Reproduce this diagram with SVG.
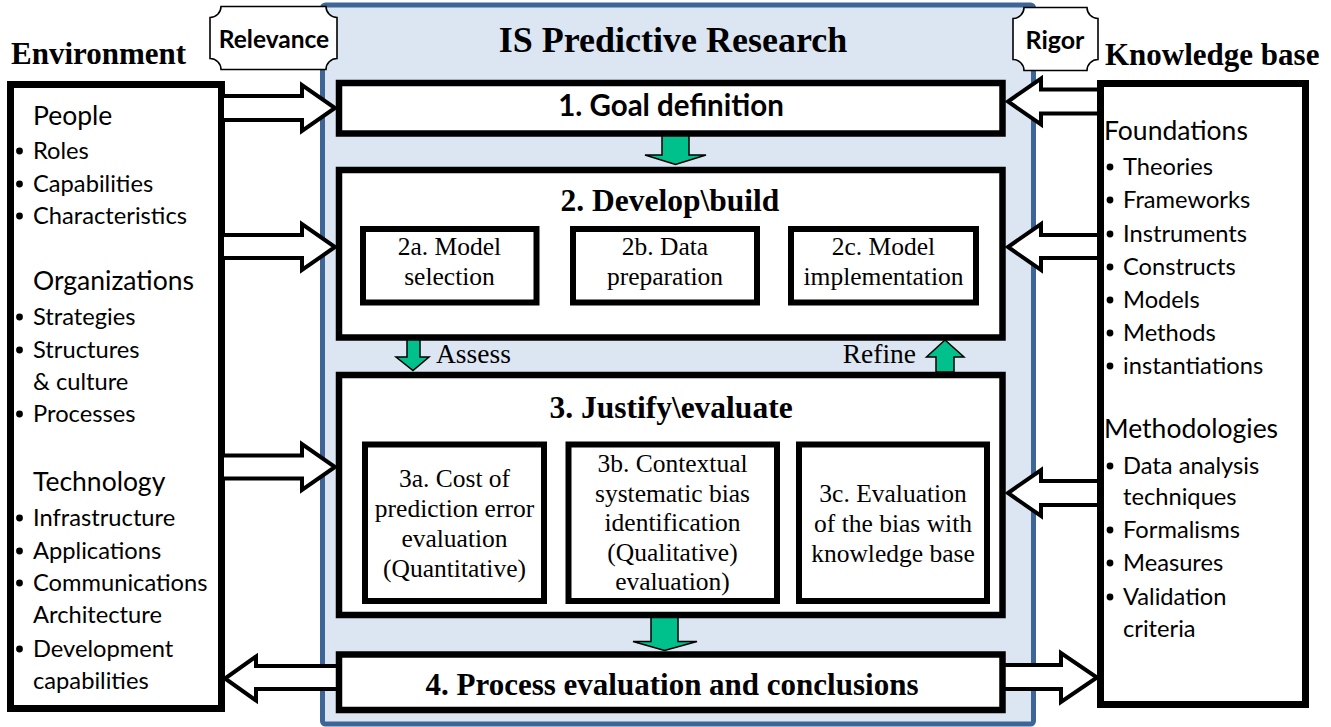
<svg xmlns="http://www.w3.org/2000/svg" width="1331" height="727" viewBox="0 0 1331 727">
<style>
.box{fill:#fff;stroke:#000;stroke-width:6.5}
.sub{fill:#fff;stroke:#000;stroke-width:6}
.side{fill:#fff;stroke:#000;stroke-width:7}
.hollow{fill:#fff;stroke:#000;stroke-width:4;stroke-linejoin:miter}
.green{fill:#00c18c;stroke:#000;stroke-width:1.5}
.plaque{fill:#fff;stroke:#000;stroke-width:1.6}
.sans{font-family:Lato,"Liberation Sans",sans-serif;fill:#000}
.serif{font-family:"Liberation Serif","Times New Roman",serif;fill:#000}
.hd{font-size:26.5px}
.it{font-size:23.7px}
.tb{font-weight:bold}
.ctr{text-anchor:middle}
.subt{font-size:25.5px}
.ttl{font-size:31.5px;font-weight:bold}
</style>
<rect width="1331" height="727" fill="#fff"/>

<g id="panel">
<rect x="322.5" y="5" width="711" height="719" rx="3" fill="#dce6f2" stroke="#3d6595" stroke-width="5"/>
<text class="serif tb ctr" x="673" y="52" font-size="36">IS Predictive Research</text>
</g>

<g id="environment">
<text class="serif tb" x="11" y="64" font-size="31">Environment</text>
<rect class="side" x="10.5" y="84.5" width="211" height="624"/>
<g class="sans">
<text class="hd" x="33" y="125">People</text>
<text class="it" x="33" y="159">Roles</text>
<text class="it" x="33" y="192">Capabilities</text>
<text class="it" x="33" y="224">Characteristics</text>
<text class="hd" x="33" y="290">Organizations</text>
<text class="it" x="33" y="325">Strategies</text>
<text class="it" x="33" y="358">Structures</text>
<text class="it" x="33" y="390">&amp; culture</text>
<text class="it" x="33" y="422">Processes</text>
<text class="hd" x="33" y="491">Technology</text>
<text class="it" x="33" y="526">Infrastructure</text>
<text class="it" x="33" y="559">Applications</text>
<text class="it" x="33" y="591">Communications</text>
<text class="it" x="33" y="623">Architecture</text>
<text class="it" x="33" y="657">Development</text>
<text class="it" x="33" y="689">capabilities</text>
</g>
<g fill="#000">
<circle cx="19.5" cy="151" r="3.4"/>
<circle cx="19.5" cy="184" r="3.4"/>
<circle cx="19.5" cy="216" r="3.4"/>
<circle cx="19.5" cy="317" r="3.4"/>
<circle cx="19.5" cy="350" r="3.4"/>
<circle cx="19.5" cy="414" r="3.4"/>
<circle cx="19.5" cy="518" r="3.4"/>
<circle cx="19.5" cy="551" r="3.4"/>
<circle cx="19.5" cy="583" r="3.4"/>
<circle cx="19.5" cy="649" r="3.4"/>
</g>
</g>

<g id="knowledge-base">
<text class="serif tb" x="1105" y="65" font-size="31">Knowledge base</text>
<rect class="side" x="1100.5" y="83.5" width="205" height="621"/>
<g class="sans">
<text class="hd" x="1104" y="140">Foundations</text>
<text class="it" x="1123" y="175">Theories</text>
<text class="it" x="1123" y="208">Frameworks</text>
<text class="it" x="1123" y="242">Instruments</text>
<text class="it" x="1123" y="275">Constructs</text>
<text class="it" x="1123" y="308">Models</text>
<text class="it" x="1123" y="341">Methods</text>
<text class="it" x="1123" y="374">instantiations</text>
<text class="hd" x="1104" y="438">Methodologies</text>
<text class="it" x="1123" y="474">Data analysis</text>
<text class="it" x="1123" y="505">techniques</text>
<text class="it" x="1123" y="538">Formalisms</text>
<text class="it" x="1123" y="571">Measures</text>
<text class="it" x="1123" y="605">Validation</text>
<text class="it" x="1123" y="637">criteria</text>
</g>
<g fill="#000">
<circle cx="1110" cy="167" r="3.4"/>
<circle cx="1110" cy="200" r="3.4"/>
<circle cx="1110" cy="234" r="3.4"/>
<circle cx="1110" cy="267" r="3.4"/>
<circle cx="1110" cy="300" r="3.4"/>
<circle cx="1110" cy="333" r="3.4"/>
<circle cx="1110" cy="366" r="3.4"/>
<circle cx="1110" cy="466" r="3.4"/>
<circle cx="1110" cy="530" r="3.4"/>
<circle cx="1110" cy="563" r="3.4"/>
<circle cx="1110" cy="597" r="3.4"/>
</g>
</g>

<g id="relevance">
<path class="plaque" d="M221 6.5H326A11 11 0 0 0 337 17.5V58.5A11 11 0 0 0 326 69.5H221A11 11 0 0 0 210 58.5V17.5A11 11 0 0 0 221 6.5Z"/>
<text class="sans tb ctr" x="274" y="47.5" font-size="24.5">Relevance</text>
</g>
<g id="rigor">
<path class="plaque" d="M1024 7.5H1087A11 11 0 0 0 1098 18.5V59.5A11 11 0 0 0 1087 70.5H1024A11 11 0 0 0 1013 59.5V18.5A11 11 0 0 0 1024 7.5Z"/>
<text class="sans tb ctr" x="1055" y="48.5" font-size="25">Rigor</text>
</g>

<g id="connectors">
<polygon class="hollow" points="222,96 302,96 302,85 335,108 302,131 302,120 222,120"/>
<polygon class="hollow" points="222,235 302,235 302,224 335,247 302,270 302,258 222,258"/>
<polygon class="hollow" points="222,455.5 302,455.5 302,444 335,467 302,490 302,478.5 222,478.5"/>
<polygon class="hollow" points="339,666 256,666 256,656.5 225,678.5 256,700.5 256,689 339,689"/>
<polygon class="hollow" points="1099,89.5 1041,89.5 1041,78.5 1008,101.5 1041,124.5 1041,113.5 1099,113.5"/>
<polygon class="hollow" points="1099,235 1041,235 1041,224 1008,247 1041,270 1041,258 1099,258"/>
<polygon class="hollow" points="1099,481 1041,481 1041,470 1008,493 1041,516 1041,505 1099,505"/>
<polygon class="hollow" points="1002,665 1061,665 1061,653 1097,677.5 1061,702 1061,689 1002,689"/>
<polygon class="green" points="662,135 689,135 689,155 706,155 675.5,164.5 645,155 662,155"/>
<polygon class="green" points="651,617 678,617 678,641.5 697,641.5 664.5,650.5 633,641.5 651,641.5"/>
<polygon class="green" points="407,339 420,339 420,357 429,357 413,370.5 396,357 407,357"/>
<polygon class="green" points="936,372 954,372 954,357 964,357 945,340 926.5,357 936,357"/>
<text class="serif" x="436" y="363" font-size="27.5">Assess</text>
<text class="serif" x="916" y="363" font-size="27.5" text-anchor="end">Refine</text>
</g>

<g id="goal-definition">
<rect class="box" x="339" y="83" width="663.5" height="50.5"/>
<text class="sans tb ctr" x="671" y="116" font-size="29.5">1. Goal definition</text>
</g>

<g id="develop-build">
<rect class="box" x="339" y="170" width="663.5" height="167.5"/>
<text class="serif ttl ctr" x="670" y="211">2. Develop\build</text>
<g id="model-selection">
<rect class="sub" x="363" y="229" width="173.5" height="73.5"/>
<text class="serif subt ctr" x="449.5" y="255">2a. Model</text>
<text class="serif subt ctr" x="449.5" y="285">selection</text>
</g>
<g id="data-preparation">
<rect class="sub" x="573" y="229" width="184" height="73.5"/>
<text class="serif subt ctr" x="665" y="255">2b. Data</text>
<text class="serif subt ctr" x="665" y="285">preparation</text>
</g>
<g id="model-implementation">
<rect class="sub" x="791" y="229" width="185" height="73.5"/>
<text class="serif subt ctr" x="883.5" y="255">2c. Model</text>
<text class="serif subt ctr" x="883.5" y="285">implementation</text>
</g>
</g>

<g id="justify-evaluate">
<rect class="box" x="339" y="375" width="663.5" height="240"/>
<text class="serif ttl ctr" x="671" y="418">3. Justify\evaluate</text>
<g id="cost-of-error">
<rect class="sub" x="365" y="444.5" width="179" height="156.5"/>
<text class="serif subt ctr" x="454.5" y="487">3a. Cost of</text>
<text class="serif subt ctr" x="454.5" y="517">prediction error</text>
<text class="serif subt ctr" x="454.5" y="547">evaluation</text>
<text class="serif subt ctr" x="454.5" y="577">(Quantitative)</text>
</g>
<g id="contextual-bias">
<rect class="sub" x="568.5" y="444.5" width="208.5" height="156.5"/>
<text class="serif subt ctr" x="672.5" y="472">3b. Contextual</text>
<text class="serif subt ctr" x="672.5" y="501.5">systematic bias</text>
<text class="serif subt ctr" x="672.5" y="531">identification</text>
<text class="serif subt ctr" x="672.5" y="560.5">(Qualitative)</text>
<text class="serif subt ctr" x="672.5" y="590">evaluation)</text>
</g>
<g id="bias-evaluation">
<rect class="sub" x="799" y="444.5" width="188" height="156.5"/>
<text class="serif subt ctr" x="893" y="502">3c. Evaluation</text>
<text class="serif subt ctr" x="893" y="532">of the bias with</text>
<text class="serif subt ctr" x="893" y="562">knowledge base</text>
</g>
</g>

<g id="process-evaluation">
<rect class="box" x="339" y="654.5" width="663.5" height="55.5"/>
<text class="serif ctr" x="672" y="695" font-size="31" font-weight="bold">4. Process evaluation and conclusions</text>
</g>
</svg>
